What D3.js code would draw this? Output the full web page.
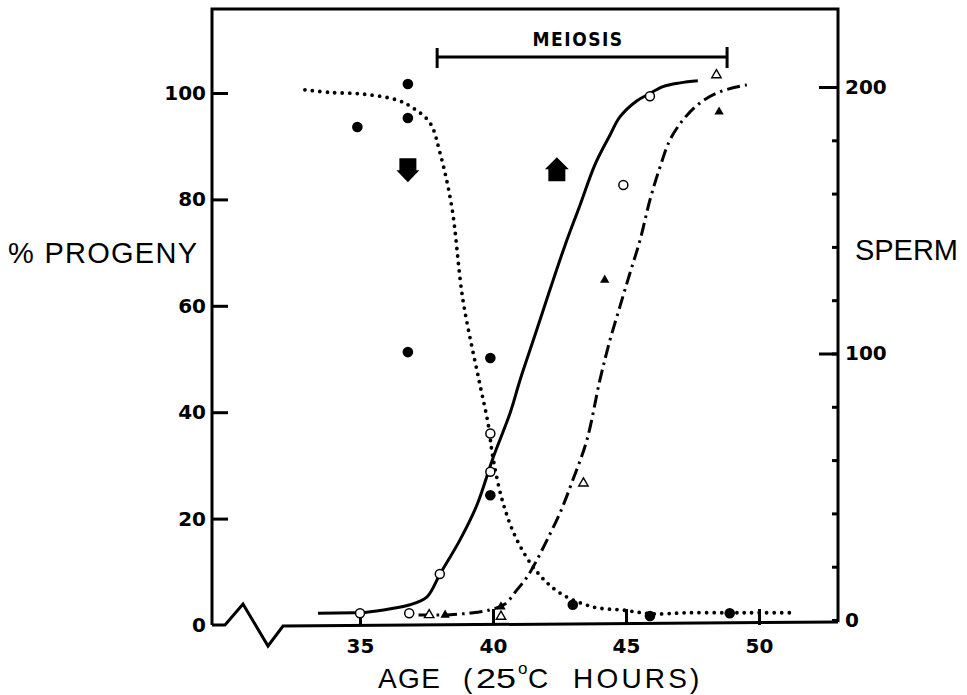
<!DOCTYPE html>
<html><head><meta charset="utf-8">
<script src="https://cdn.jsdelivr.net/npm/d3@7"></script>
<style>
body{margin:0;background:#fff;}
svg{display:block;}
.tk text{font-family:"DejaVu Sans";font-weight:bold;font-size:20px;fill:#000;}
</style></head>
<body><svg id="c" width="967" height="695"></svg>
<script>
// ---- data ----
const xTicks = [35, 40, 45, 50];
const leftTicks = [0, 20, 40, 60, 80, 100];
const rightMajor = [0, 100, 200];
const rightMinor = [0, 20, 40, 60, 80, 100, 120, 140, 160, 180, 200];

// filled circles (% progeny)
const filledH = [34.9, 36.8, 36.8, 36.8, 39.9, 39.9, 43.0, 45.9, 48.9];
const filledP = [93.6, 101.7, 95.3, 51.3, 50.2, 24.4, 3.8, 1.7, 2.2];
// open circles (% progeny)
const openH = [35.0, 36.85, 38.0, 39.9, 39.9, 44.9, 45.9];
const openP = [2.2, 2.2, 9.6, 36.0, 28.8, 82.7, 99.4];
// triangles (sperm)
const triOpenH = [37.6, 40.3, 43.4, 48.4];
const triOpenS = [1.9, 1.3, 51.3, 204.5];
const triFilledH = [38.2, 40.3, 44.2, 48.5];
const triFilledS = [1.9, 5.0, 127.6, 190.7];

// dotted curve (left axis)
const dotH = [32.93, 33.87, 35.11, 36.38, 36.99, 37.63, 38.01, 38.45, 38.87, 39.47, 39.81, 40.0, 40.38, 40.9, 41.65, 42.52, 43.76, 44.89, 46.0, 47.3, 48.9, 50.0, 51.35];
const dotP = [100.6, 100.1, 99.8, 98.7, 97.2, 94.4, 88.7, 78.6, 61.1, 46.1, 38.0, 31.4, 22.9, 16.0, 10.0, 6.0, 3.4, 2.8, 2.1, 2.3, 2.3, 2.3, 2.3];
// solid curve (left axis)
const solH = [33.42, 34.81, 35.0, 36.88, 37.52, 38.01, 38.76, 39.4, 40.0, 40.64, 41.02, 41.58, 42.14, 42.71, 43.27, 43.83, 44.4, 44.77, 45.4, 45.86, 46.39, 47.03, 47.7];
const solP = [2.2, 2.3, 2.3, 3.8, 5.3, 9.6, 16.0, 22.6, 31.4, 39.8, 46.1, 54.5, 63.0, 71.4, 78.9, 86.5, 92.1, 95.5, 98.5, 99.8, 101.2, 101.9, 102.3];
// dash-dot curve (right axis)
const ddH = [37.2, 38.16, 39.14, 39.89, 40.45, 40.9, 41.28, 41.65, 42.03, 42.52, 43.0, 43.53, 44.02, 44.4, 44.77, 45.15, 45.53, 45.9, 46.28, 46.65, 47.14, 47.78, 48.53, 49.54];
const ddS = [1.9, 1.9, 2.6, 3.8, 6.0, 11.3, 16.1, 22.5, 30.0, 40.2, 52.5, 67.5, 90.1, 105.1, 117.6, 130.2, 142.6, 157.6, 170.0, 180.1, 187.6, 194.0, 198.2, 200.8];

const meiosis = [37.9, 48.8];
const arrowDown = [36.8, 85.5];
const arrowUp = [42.4, 85.5];

// ---- layout ----
const L = 212, R = 838, T = 9, B = 625;
const svg = d3.select("#c");
const x = d3.scaleLinear().domain([35, 50]).range([360, 759]);
const yL = d3.scaleLinear().domain([0, 100]).range([625, 93]);
const yR = d3.scaleLinear().domain([0, 200]).range([620, 87]);

// frame
svg.append("path")
  .attr("d", `M${L},${B} L${L},${T} L${R},${T} L${R},${B-3}`)
  .attr("fill", "none").attr("stroke", "#000").attr("stroke-width", 3);
// bottom axis with break
svg.append("path")
  .attr("d", `M${L},${B} L${L+13},${B} L${L+31},${B-21} L${L+56},${B+21} L${L+71},${B+1} L${R},${B-3}`)
  .attr("fill", "none").attr("stroke", "#000").attr("stroke-width", 3).attr("stroke-linejoin", "miter");

// axes
const ax = svg.append("g").attr("class", "tk").attr("transform", `translate(0,${B})`)
  .call(d3.axisBottom(x).tickValues(xTicks).tickSizeInner(-16).tickSizeOuter(0).tickPadding(9).tickFormat(d3.format("d")));
ax.select(".domain").remove();
ax.selectAll("line").attr("stroke-width", 3);
ax.selectAll("text").attr("dy", "0.95em");

const al = svg.append("g").attr("class", "tk").attr("transform", `translate(${L},0)`)
  .call(d3.axisLeft(yL).tickValues(leftTicks).tickSizeInner(-16).tickSizeOuter(0).tickPadding(6).tickFormat(d3.format("d")));
al.select(".domain").remove();
al.selectAll("line").attr("stroke-width", 3);
al.selectAll(".tick").filter(d => d === 0).select("line").remove();

const ar1 = svg.append("g").attr("transform", `translate(${R},0)`)
  .call(d3.axisRight(yR).tickValues(rightMinor).tickSizeInner(-6).tickSizeOuter(0).tickFormat(""));
ar1.select(".domain").remove();
ar1.selectAll("line").attr("stroke-width", 3);
const ar2 = svg.append("g").attr("class", "tk").attr("transform", `translate(${R},0)`)
  .call(d3.axisRight(yR).tickValues(rightMajor).tickSizeInner(-19).tickSizeOuter(0).tickPadding(7).tickFormat(d3.format("d")));
ar2.select(".domain").remove();
ar2.selectAll("line").attr("stroke-width", 3);
ar2.selectAll(".tick").filter(d => d === 0).select("line").remove();

// axis titles
const tf = "Liberation Sans";
svg.append("text").attr("x", 8).attr("y", 263).attr("font-family", tf).attr("font-size", 29)
  .attr("textLength", 189).text("% PROGENY");
svg.append("text").attr("x", 855).attr("y", 260).attr("font-family", tf).attr("font-size", 29)
  .attr("textLength", 103).text("SPERM");
const xt = svg.append("g").attr("font-family", tf).attr("font-size", 28);
xt.append("text").attr("x", 378).attr("y", 688).attr("textLength", 62).text("AGE");
xt.append("text").attr("x", 463).attr("y", 688).text("(");
xt.append("text").attr("x", 476).attr("y", 688).attr("textLength", 40).attr("lengthAdjust", "spacingAndGlyphs").text("25");
xt.append("text").attr("x", 518).attr("y", 674).attr("font-size", 17).text("o");
xt.append("text").attr("x", 528).attr("y", 688).text("C");
xt.append("text").attr("x", 573).attr("y", 688).attr("textLength", 114).text("HOURS");
xt.append("text").attr("x", 690).attr("y", 688).text(")");

// meiosis bar
const my = 57;
const mg = svg.append("g").attr("stroke", "#000").attr("stroke-width", 3);
mg.append("line").attr("x1", x(meiosis[0])).attr("x2", x(meiosis[1])).attr("y1", my).attr("y2", my);
mg.append("line").attr("x1", x(meiosis[0])).attr("x2", x(meiosis[0])).attr("y1", my - 9).attr("y2", my + 11);
mg.append("line").attr("x1", x(meiosis[1])).attr("x2", x(meiosis[1])).attr("y1", my - 10).attr("y2", my + 11);
svg.append("text").attr("x", (x(meiosis[0]) + x(meiosis[1])) / 2 - 4).attr("y", 46)
  .attr("text-anchor", "middle").attr("font-family", "DejaVu Sans Condensed, DejaVu Sans")
  .attr("font-weight", "bold").attr("font-size", 19).attr("letter-spacing", 1.5).text("MEIOSIS");

// curves
const line = (hs, vs, ys) => d3.line().curve(d3.curveCatmullRom.alpha(0.5))(hs.map((h, i) => [x(h), ys(vs[i])]));
svg.append("path").attr("d", line(dotH, dotP, yL)).attr("fill", "none").attr("stroke", "#000")
  .attr("stroke-width", 3.8).attr("stroke-linecap", "round").attr("stroke-dasharray", "0 7.5");
svg.append("path").attr("d", line(solH, solP, yL)).attr("fill", "none").attr("stroke", "#000")
  .attr("stroke-width", 3);
svg.append("path").attr("d", line(ddH, ddS, yR)).attr("fill", "none").attr("stroke", "#000")
  .attr("stroke-width", 3).attr("stroke-dasharray", "13 5 2.5 5");

// markers
svg.append("g").selectAll("circle").data(filledH).join("circle")
  .attr("cx", d => x(d)).attr("cy", (d, i) => yL(filledP[i])).attr("r", 5.3).attr("fill", "#000");
svg.append("g").selectAll("circle").data(openH).join("circle")
  .attr("cx", d => x(d)).attr("cy", (d, i) => yL(openP[i])).attr("r", 4.5)
  .attr("fill", "#fff").attr("stroke", "#000").attr("stroke-width", 1.5);
const tri = d3.symbol().type(d3.symbolTriangle).size(38);
svg.append("g").selectAll("path").data(triOpenH).join("path")
  .attr("transform", (d, i) => `translate(${x(d)},${yR(triOpenS[i])})`).attr("d", tri)
  .attr("fill", "#fff").attr("stroke", "#000").attr("stroke-width", 1.4);
svg.append("g").selectAll("path").data(triFilledH).join("path")
  .attr("transform", (d, i) => `translate(${x(d)},${yR(triFilledS[i])})`).attr("d", tri)
  .attr("fill", "#000");

// arrows
const ad = [x(arrowDown[0]), yL(arrowDown[1])];
svg.append("path").attr("fill", "#000")
  .attr("d", `M${ad[0]-8.5},${ad[1]-12} h17 v12 h3 L${ad[0]},${ad[1]+12} L${ad[0]-11.5},${ad[1]} h3 Z`);
const au = [x(arrowUp[0]), yL(arrowUp[1])];
svg.append("path").attr("fill", "#000")
  .attr("d", `M${au[0]},${au[1]-13} L${au[0]+12},${au[1]-1} h-3.5 v12 h-17 v-12 h-3.5 Z`);
</script></body></html>
